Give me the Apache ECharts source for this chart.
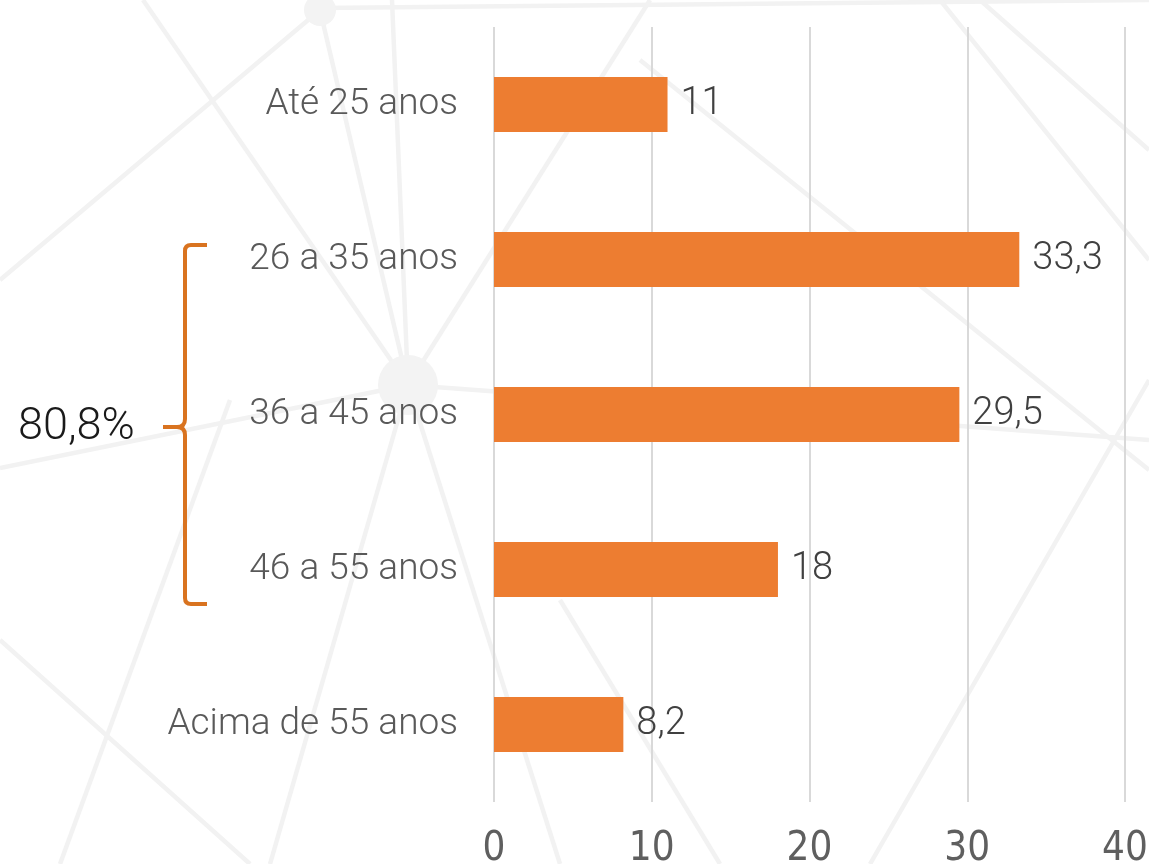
<!DOCTYPE html>
<html><head><meta charset="utf-8">
<script src="https://cdn.jsdelivr.net/npm/echarts@6/dist/echarts.min.js"></script>
<style>html,body{margin:0;padding:0;background:#fff}#c{width:1149px;height:864px}</style>
</head><body><div id="c"></div>
<script>
const categories = ['Até 25 anos', '26 a 35 anos', '36 a 45 anos', '46 a 55 anos', 'Acima de 55 anos'];
const values = [11, 33.3, 29.5, 18, 8.2];
const xTicks = [0, 10, 20, 30, 40];
const bracketLabel = '80,8%';

const chart = echarts.init(document.getElementById('c'), null, {renderer: 'canvas'});
const FONT = 'Roboto';
const NARROW = "'Liberation Sans Narrow', 'DejaVu Sans Condensed', sans-serif";
const bgLine = (x1, y1, x2, y2) => ({type: 'line', z: -10, silent: true,
  shape: {x1, y1, x2, y2}, style: {stroke: '#f2f2f2', lineWidth: 4.5}});
const bgNode = (cx, cy, r) => ({type: 'circle', z: -10, silent: true,
  shape: {cx, cy, r}, style: {fill: '#f3f3f3'}});
const BR = '#D9731F';
const bLine = (x1, y1, x2, y2) => ({type: 'line', z: 10, silent: true,
  shape: {x1, y1, x2, y2}, style: {stroke: BR, lineWidth: 4}});
const bCurve = (x1, y1, cpx1, cpy1, x2, y2) => ({type: 'bezierCurve', z: 10, silent: true,
  shape: {x1, y1, cpx1, cpy1, x2, y2}, style: {stroke: BR, lineWidth: 4, fill: 'none'}});

chart.setOption({
  backgroundColor: '#ffffff',
  animation: false,
  grid: {left: 494, right: 24, top: 27, bottom: 62, containLabel: false, outerBoundsMode: 'none'},
  xAxis: {
    type: 'value', min: xTicks[0], max: xTicks[xTicks.length - 1], interval: 10,
    axisLine: {show: false}, axisTick: {show: false},
    splitLine: {show: true, lineStyle: {color: '#d9d9d9', width: 2}},
    axisLabel: {color: '#5f5f5f', fontSize: 40, fontFamily: NARROW, margin: 28,
      formatter: v => String(v)}
  },
  yAxis: {
    type: 'category', data: categories, inverse: true,
    axisLine: {show: false}, axisTick: {show: false},
    axisLabel: {color: '#595959', fontSize: 37, fontFamily: FONT, fontWeight: 300, margin: 36}
  },
  series: [{
    type: 'bar', data: values, barWidth: 55,
    itemStyle: {color: '#ED7D31'},
    label: {show: true, position: 'right', distance: 13, color: '#404040', fontSize: 38,
      fontFamily: FONT, fontWeight: 300,
      formatter: p => String(p.value).replace('.', ',')}
  }],
  graphic: [
    bgLine(143, 0, 408, 385), bgLine(320, 10, 0, 280), bgLine(320, 10, 408, 385),
    bgLine(392, 0, 408, 385), bgLine(320, 8, 1149, 0), bgLine(0, 468, 408, 385),
    bgLine(408, 385, 1149, 440), bgLine(408, 385, 270, 864), bgLine(408, 385, 560, 864),
    bgLine(408, 385, 650, 0), bgLine(0, 640, 250, 864), bgLine(1149, 150, 980, 0),
    bgLine(640, 60, 1149, 470), bgLine(870, 864, 1149, 380), bgLine(940, 0, 1149, 260),
    bgLine(60, 864, 230, 400), bgLine(560, 600, 720, 864),
    bgNode(320, 10, 16), bgNode(408, 385, 30),
    bLine(207, 245, 191, 245), bCurve(191, 245, 185, 245, 185, 251),
    bLine(185, 251, 185, 419), bCurve(185, 419, 185, 427, 177, 427),
    bLine(177, 427, 163, 427), bCurve(177, 427, 185, 427, 185, 435),
    bLine(185, 435, 185, 598), bCurve(185, 598, 185, 604, 191, 604),
    bLine(191, 604, 207, 604),
    {type: 'text', z: 10, x: 18, y: 428, style: {text: bracketLabel, fill: '#1a1a1a',
      font: '300 45px Roboto', textVerticalAlign: 'middle', verticalAlign: 'middle'}}
  ]
});
</script></body></html>
